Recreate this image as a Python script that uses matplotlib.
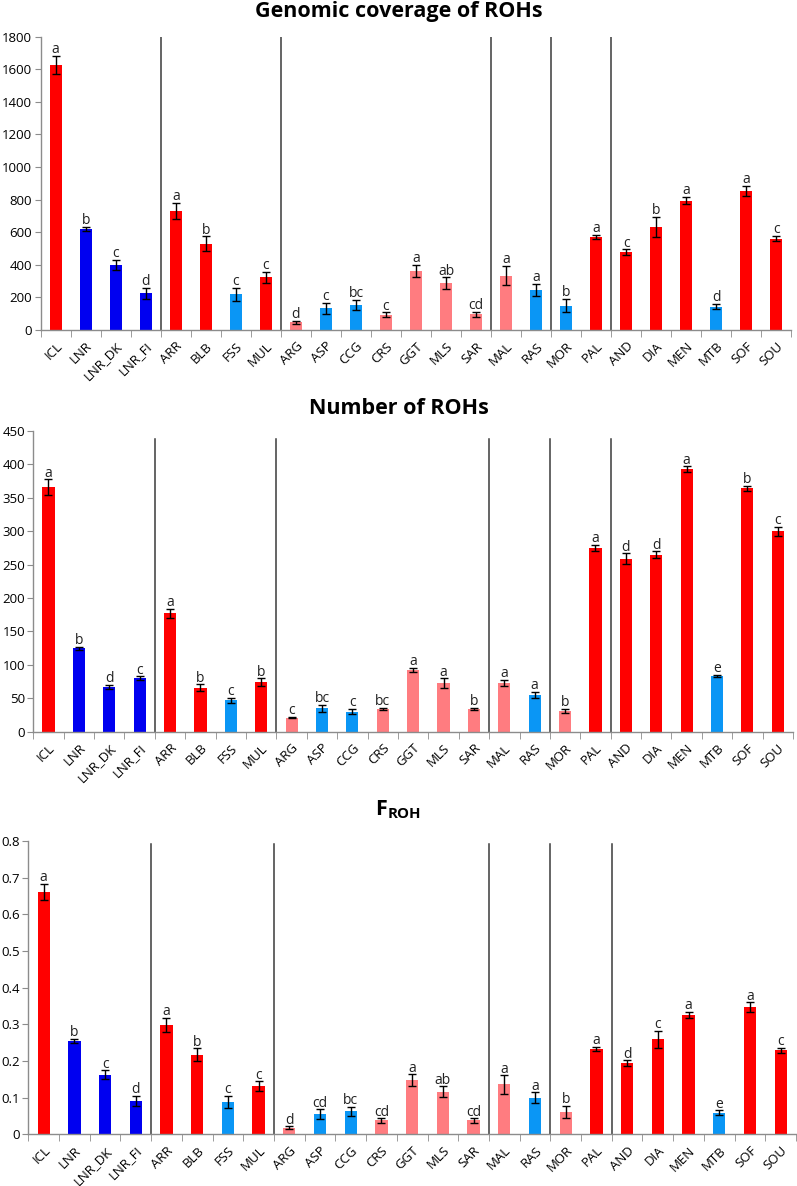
import matplotlib
matplotlib.use("Agg")
import matplotlib.pyplot as plt
import numpy as np
from matplotlib.ticker import FuncFormatter, FixedLocator

plt.rcParams['font.family'] = ['Open Sans', 'DejaVu Sans']
plt.rcParams['mathtext.fontset'] = 'custom'
plt.rcParams['mathtext.rm'] = 'Open Sans'
plt.rcParams['mathtext.bf'] = 'Open Sans:bold'

categories = ["ICL", "LNR", "LNR_DK", "LNR_FI", "ARR", "BLB", "FSS", "MUL",
              "ARG", "ASP", "CCG", "CRS", "GGT", "MLS", "SAR", "MAL", "RAS",
              "MOR", "PAL", "AND", "DIA", "MEN", "MTB", "SOF", "SOU"]

RED, BLUE, LBLUE, PINK = "#FF0000", "#0000F0", "#0A96F5", "#FF7C80"

colors_cov = [RED, BLUE, BLUE, BLUE, RED, RED, LBLUE, RED,
              PINK, LBLUE, LBLUE, PINK, PINK, PINK, PINK, PINK, LBLUE,
              LBLUE, RED, RED, RED, RED, LBLUE, RED, RED]
colors_num = colors_cov[:17] + [PINK] + colors_cov[18:]
colors_froh = colors_num

cov_values = [1625, 620, 400, 225, 730, 530, 218, 322,
              47, 133, 155, 93, 363, 286, 96, 333, 245,
              150, 570, 477, 633, 794, 143, 851, 561]
cov_errors = [58, 12, 30, 35, 50, 45, 42, 35,
              10, 32, 30, 15, 38, 36, 15, 60, 37,
              40, 12, 18, 60, 22, 16, 32, 15]
cov_letters = ["a", "b", "c", "d", "a", "b", "c", "c",
               "d", "c", "bc", "c", "a", "ab", "cd", "a", "a",
               "b", "a", "c", "b", "a", "d", "a", "c"]

num_values = [366, 125, 67, 80, 177, 66, 47, 74,
              21, 35, 30, 34, 93, 73, 34, 73, 55,
              31, 275, 259, 265, 393, 84, 364, 300]
num_errors = [12, 2, 3, 3, 7, 5, 4, 6,
              1, 5, 4, 2, 3, 7, 2, 5, 5,
              3, 5, 8, 5, 4, 1.5, 4, 7]
num_letters = ["a", "b", "d", "c", "a", "b", "c", "b",
               "c", "bc", "c", "bc", "a", "a", "b", "a", "a",
               "b", "a", "d", "d", "a", "e", "b", "c"]

froh_values = [0.661, 0.254, 0.163, 0.091, 0.298, 0.217, 0.088, 0.131,
               0.018, 0.055, 0.063, 0.038, 0.148, 0.116, 0.038, 0.136, 0.100,
               0.061, 0.232, 0.194, 0.259, 0.325, 0.059, 0.347, 0.229]
froh_errors = [0.023, 0.006, 0.012, 0.014, 0.020, 0.018, 0.017, 0.014,
               0.004, 0.013, 0.012, 0.006, 0.016, 0.015, 0.006, 0.025, 0.015,
               0.016, 0.006, 0.008, 0.024, 0.009, 0.006, 0.013, 0.007]
froh_letters = ["a", "b", "c", "d", "a", "b", "c", "c",
                "d", "cd", "bc", "cd", "a", "ab", "cd", "a", "a",
                "b", "a", "d", "c", "a", "e", "a", "c"]

separators = [3.5, 7.5, 14.5, 16.5, 18.5]

W, H = 797, 1186
fig = plt.figure(figsize=(W / 100, H / 100), dpi=100)

def px_axes(left, right, top, bottom):
    return fig.add_axes([left / W, 1 - bottom / H, (right - left) / W, (bottom - top) / H])

panels = [
    dict(box=(40.6, 791.5, 36.5, 330), vals=cov_values, errs=cov_errors, lets=cov_letters,
         cols=colors_cov, ymax=1800, step=200, sep_top=1.0,
         title="Genomic coverage of ROHs", ty=12),
    dict(box=(33.3, 793, 431, 731.7), vals=num_values, errs=num_errors, lets=num_letters,
         cols=colors_num, ymax=450, step=50, sep_top=0.973,
         title="Number of ROHs", ty=408),
    dict(box=(28.3, 796, 841, 1134.3), vals=froh_values, errs=froh_errors, lets=froh_letters,
         cols=colors_froh, ymax=0.8, step=0.1, sep_top=0.99,
         title=r"$\mathbf{F}_{\mathbf{ROH}}$", ty=810),
]

x = np.arange(len(categories))
spine_col = "#8C8C8C"

for p in panels:
    ax = px_axes(*p["box"])
    ax.bar(x, p["vals"], width=0.4, color=p["cols"], zorder=2)
    ax.errorbar(x, p["vals"], yerr=p["errs"], fmt="none", ecolor="black",
                elinewidth=1, capsize=3, capthick=1, zorder=3)
    for xi, v, e, l in zip(x, p["vals"], p["errs"], p["lets"]):
        ax.annotate(l, (xi, v + e), xytext=(0, -1), textcoords="offset points",
                    ha="center", va="bottom", fontsize=10, color="#222222")
    for s in separators:
        ax.axvline(s, ymin=0, ymax=p["sep_top"], color="#3a3a3a", lw=1.1, zorder=1)
    ax.set_xlim(-0.5, len(categories) - 0.5)
    ax.set_ylim(0, p["ymax"])
    ax.set_yticks(np.arange(0, p["ymax"] + p["step"] / 2, p["step"]))
    ax.yaxis.set_major_formatter(FuncFormatter(lambda v, pos: "%g" % round(v, 3)))
    ax.set_xticks(x)
    ax.set_xticklabels(categories, rotation=45, ha="right", rotation_mode="anchor", fontsize=9.5)
    ax.xaxis.set_minor_locator(FixedLocator(np.arange(-0.5, len(categories), 1.0)))
    ax.tick_params(axis="x", which="major", length=0, pad=7)
    ax.tick_params(axis="x", which="minor", length=5, color=spine_col, direction="out")
    ax.tick_params(axis="y", length=4, color=spine_col, labelsize=9.5, pad=2)
    for side in ("top", "right"):
        ax.spines[side].set_visible(False)
    for side in ("left", "bottom"):
        ax.spines[side].set_color(spine_col)
        ax.spines[side].set_linewidth(1)
    fig.text(0.5, 1 - p["ty"] / H, p["title"], ha="center", va="center",
             fontsize=15.5, fontweight="bold")

fig.savefig("out.png", dpi=100)
